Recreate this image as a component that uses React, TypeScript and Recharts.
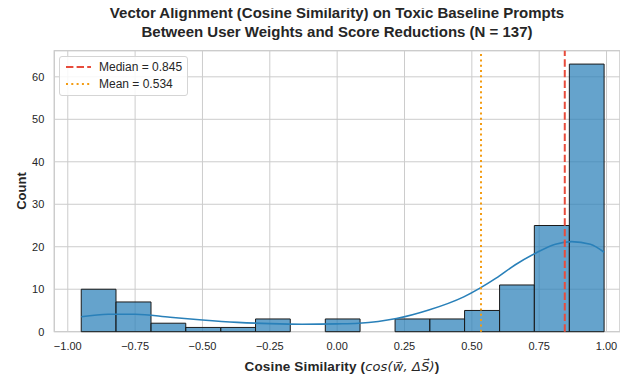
import React from 'react';
import { ComposedChart, XAxis, YAxis, CartesianGrid, Line, ReferenceArea, ReferenceLine } from 'recharts';

// histogram bins (15 bins) and counts
const binEdges = [-0.95, -0.821, -0.691, -0.562, -0.432, -0.303, -0.174, -0.044, 0.085, 0.215, 0.344, 0.473, 0.603, 0.732, 0.862, 0.991];
const binCounts = [10, 7, 2, 1, 1, 3, 0, 3, 0, 3, 3, 5, 11, 25, 63];

// KDE curve (in count units)
const kdeX = [-0.95, -0.85, -0.75, -0.62, -0.5, -0.37, -0.25, -0.13, 0.0, 0.08, 0.22, 0.34, 0.47, 0.59, 0.66, 0.74, 0.81, 0.87, 0.94, 0.991];
const kdeY = [3.5, 4.1, 4.1, 3.4, 2.75, 2.2, 1.9, 1.75, 1.85, 2.0, 3.1, 5.1, 8.2, 12.6, 15.7, 18.6, 20.6, 21.2, 20.6, 18.7];

const xTicks = [-1, -0.75, -0.5, -0.25, 0, 0.25, 0.5, 0.75, 1];
const yTicks = [0, 10, 20, 30, 40, 50, 60];

const medianValue = 0.845;
const meanValue = 0.534;

const kdeData = kdeX.map((x, i) => ({ x, density: kdeY[i] }));

const FONT = '"Liberation Sans", Arial, sans-serif';
const TEXT = '#262626';
const BAR = '#2980b9';

const fmtX = (v: number) => (v < 0 ? '\u2212' : '') + Math.abs(v).toFixed(2);

const App = () => {
  return (
    <div style={{ position: 'relative', width: 628, height: 379, marginLeft: -8, marginTop: -8, background: '#fff', fontFamily: FONT, color: TEXT }}>
      <div style={{ position: 'absolute', top: 3, left: 0, width: 674, textAlign: 'center', fontWeight: 'bold', fontSize: 15, lineHeight: '19px' }}>
        Vector Alignment (Cosine Similarity) on Toxic Baseline Prompts
        <br />
        Between User Weights and Score Reductions (N = 137)
      </div>

      <ComposedChart width={628} height={379} data={kdeData} margin={{ top: 50.7, right: 8, bottom: 0, left: 0 }}>
        <CartesianGrid stroke="#cccccc" strokeWidth={1} />
        <XAxis
          type="number"
          dataKey="x"
          domain={[-1.05, 1.05]}
          ticks={xTicks}
          tickFormatter={fmtX}
          allowDataOverflow
          height={47.3}
          axisLine={false}
          tickLine={false}
          tickSize={0}
          tickMargin={10}
          tick={{ fill: TEXT, fontSize: 11, fontFamily: FONT }}
        />
        <YAxis
          type="number"
          domain={[0, 66.15]}
          ticks={yTicks}
          allowDataOverflow
          width={54.3}
          axisLine={false}
          tickLine={false}
          tickSize={0}
          tickMargin={10}
          tick={{ fill: TEXT, fontSize: 11, fontFamily: FONT }}
        />
        <ReferenceArea x1={-1.05} x2={1.05} y1={0} y2={66.15} fill="none" stroke="#cccccc" strokeWidth={1.25} />
        {binCounts.map((c, i) =>
          c > 0 ? (
            <ReferenceArea
              key={i}
              x1={binEdges[i]}
              x2={binEdges[i + 1]}
              y1={0}
              y2={c}
              fill={BAR}
              fillOpacity={0.72}
              stroke="#1a1a1a"
              strokeOpacity={1}
              strokeWidth={1}
              zIndex={300}
            />
          ) : null
        )}
        <Line type="monotone" dataKey="density" stroke={BAR} strokeWidth={1.6} dot={false} isAnimationActive={false} zIndex={400} />
        <ReferenceLine x={meanValue} stroke="#f39c12" strokeWidth={2} strokeDasharray="2 3.3" zIndex={500} />
        <ReferenceLine x={medianValue} stroke="#e74c3c" strokeWidth={2} strokeDasharray="7.4 3.2" zIndex={500} />
      </ComposedChart>

      {/* legend */}
      <div style={{ position: 'absolute', left: 59, top: 56, width: 127, height: 38, border: '1px solid #d5d5d5', borderRadius: 3, background: 'rgba(255,255,255,0.85)', fontSize: 12 }}>
        <svg width={32} height={38} style={{ position: 'absolute', left: 0, top: 0 }}>
          <line x1={6} x2={31} y1={10} y2={10} stroke="#e74c3c" strokeWidth={2} strokeDasharray="7.4 3.2" />
          <line x1={6} x2={31} y1={27} y2={27} stroke="#f39c12" strokeWidth={2} strokeDasharray="2 3.3" />
        </svg>
        <div style={{ position: 'absolute', left: 39, top: 3, lineHeight: '15px' }}>Median = 0.845</div>
        <div style={{ position: 'absolute', left: 39, top: 20, lineHeight: '15px' }}>Mean = 0.534</div>
      </div>

      {/* y label */}
      <div style={{ position: 'absolute', left: 21, top: 191, transform: 'translate(-50%, -50%) rotate(-90deg)', fontWeight: 'bold', fontSize: 13, whiteSpace: 'nowrap' }}>
        Count
      </div>

      {/* x label */}
      <div style={{ position: 'absolute', left: 342, top: 366, transform: 'translate(-50%, -50%)', fontWeight: 'bold', fontSize: 13.5, letterSpacing: 0.15, whiteSpace: 'nowrap' }}>
        Cosine Similarity (
        <span style={{ fontStyle: 'italic', fontWeight: 'normal', fontFamily: '"DejaVu Sans", sans-serif', fontSize: 13 }}>
          cos(w{'\u20D7'}, {'\u0394'}S{'\u20D7'})
        </span>
        )
      </div>
    </div>
  );
};

export default App;
